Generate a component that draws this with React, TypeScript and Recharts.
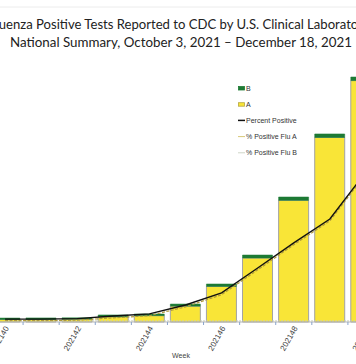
import React from "react";
import { ComposedChart, Bar, Line, XAxis, YAxis, Legend } from "recharts";

const weeks = ["202140", "202141", "202142", "202143", "202144", "202145", "202146", "202147", "202148", "202149", "202150"];
const positiveA = [33, 35, 38, 70, 85, 212, 475, 855, 1625, 2465, 3225];
const positiveB = [20, 20, 18, 24, 22, 28, 33, 40, 45, 47, 48];
const percentPositive = [0.11, 0.11, 0.13, 0.23, 0.31, 0.65, 1.11, 2.06, 3.02, 3.93, 5.73];
const percentFluA = [0.05, 0.05, 0.07, 0.16, 0.24, 0.58, 1.04, 1.99, 2.95, 3.86, 5.66];
const percentFluB = [0.04, 0.04, 0.04, 0.04, 0.04, 0.04, 0.04, 0.04, 0.04, 0.04, 0.04];

const titleLine1 = "Influenza Positive Tests Reported to CDC by U.S. Clinical Laboratories,";
const titleLine2 = "National Summary, October 3, 2021 \u2013 December 18, 2021";
const xAxisTitle = "Week";

const data = weeks.map((w, i) => ({
  week: w,
  A: positiveA[i],
  B: positiveB[i],
  pct: percentPositive[i],
  pctA: percentFluA[i],
  pctB: percentFluB[i],
}));

const CHART_W = 397;
const CHART_H = 364;
const BAND = CHART_W / weeks.length;

const YELLOW = "#f9e537";
const GREEN = "#1d7a34";
const BAR_EDGE = "#a3a3a3";

const WeekTick = (props: any) => {
  const { x, y, index, payload } = props;
  const bx = x + BAND / 2;
  return (
    <g>
      <line x1={bx} x2={bx} y1={y} y2={y + 3} stroke="#8aa4cc" strokeWidth={1} />
      {index % 2 === 0 ? (
        <text
          transform={`translate(${x + 2},${y + 5}) rotate(-60)`}
          textAnchor="end"
          dominantBaseline="central"
          fontSize={8}
          fontFamily="Liberation Sans, Arial, sans-serif"
          fill="#444"
        >
          {payload.value}
        </text>
      ) : null}
    </g>
  );
};

const legendItems = [
  { label: "B", kind: "box", fill: GREEN, stroke: GREEN },
  { label: "A", kind: "box", fill: YELLOW, stroke: "#b5a640" },
  { label: "Percent Positive", kind: "line", stroke: "#111", width: 1.5 },
  { label: "% Positive Flu A", kind: "line", stroke: "#d8c878", width: 1 },
  { label: "% Positive Flu B", kind: "line", stroke: "#cfd6c8", width: 1 },
];

const renderLegend = () => (
  <svg width={80} height={80} style={{ display: "block", overflow: "visible" }}>
    {legendItems.map((it, i) => {
      const cy = i * 16.2;
      return (
        <g key={it.label}>
          {it.kind === "box" ? (
            <rect x={0.5} y={cy - 1.5} width={6} height={3.5} fill={it.fill} stroke={it.stroke} strokeWidth={0.8} />
          ) : (
            <line x1={0} x2={7} y1={cy} y2={cy} stroke={it.stroke} strokeWidth={it.width} />
          )}
          <text
            x={8}
            y={cy}
            dominantBaseline="central"
            fontSize={7}
            fontFamily="Liberation Sans, Arial, sans-serif"
            fill="#333"
          >
            {it.label}
          </text>
        </g>
      );
    })}
  </svg>
);

export default function App() {
  return (
    <div
      style={{
        position: "absolute",
        left: 0,
        top: 0,
        width: 356,
        height: 364,
        overflow: "hidden",
        background: "#fff",
      }}
    >
      <svg width={356} height={364} style={{ position: "absolute", left: 0, top: 0, overflow: "visible" }}>
        <line x1={0} x2={356} y1={7} y2={7} stroke="#ececec" strokeWidth={1} />
        <text x={181} y={29} textAnchor="middle" fontSize={13.1} fontFamily="Lato, sans-serif" fill="#222">
          {titleLine1}
        </text>
        <text x={181} y={47} textAnchor="middle" fontSize={13.1} fontFamily="Lato, sans-serif" fill="#222" textLength={342} lengthAdjust="spacingAndGlyphs">
          {titleLine2}
        </text>
        <text x={181} y={358} textAnchor="middle" fontSize={7} fontFamily="Liberation Sans, Arial, sans-serif" fill="#444">
          {xAxisTitle}
        </text>
      </svg>
      <div style={{ position: "absolute", left: -13, top: 0 }}>
        <ComposedChart
          width={CHART_W}
          height={CHART_H}
          data={data}
          margin={{ top: 60, right: 0, bottom: 0, left: 0 }}
          barCategoryGap="8%"
        >
          <XAxis
            dataKey="week"
            height={42}
            interval={0}
            tickLine={false}
            tickSize={0}
            tickMargin={0}
            axisLine={{ stroke: "#b5b5b5" }}
            tick={<WeekTick />}
          />
          <YAxis yAxisId="left" hide domain={[0, 3500]} />
          <YAxis yAxisId="right" orientation="right" hide domain={[0, 10]} />
          <Legend
            layout="horizontal"
            verticalAlign="middle"
            align="center"
            content={renderLegend}
            wrapperStyle={{ position: "absolute", left: 251, top: 88, width: 80 }}
          />
          <Bar yAxisId="left" dataKey="A" stackId="s" fill={YELLOW} stroke={BAR_EDGE} strokeWidth={1} isAnimationActive={false} />
          <Bar yAxisId="left" dataKey="B" stackId="s" fill={GREEN} stroke={GREEN} strokeWidth={0.5} isAnimationActive={false} />
          <Line yAxisId="right" type="linear" dataKey="pctB" stroke="#c9cfb5" strokeWidth={1} strokeDasharray="2 1" dot={false} isAnimationActive={false} />
          <Line yAxisId="right" type="linear" dataKey="pctA" stroke="#b09a3c" strokeWidth={1.2} strokeDasharray="3 1.5" dot={false} isAnimationActive={false} />
          <Line yAxisId="right" type="linear" dataKey="pct" stroke="#111" strokeWidth={1.4} dot={false} isAnimationActive={false} />
        </ComposedChart>
      </div>
    </div>
  );
}
